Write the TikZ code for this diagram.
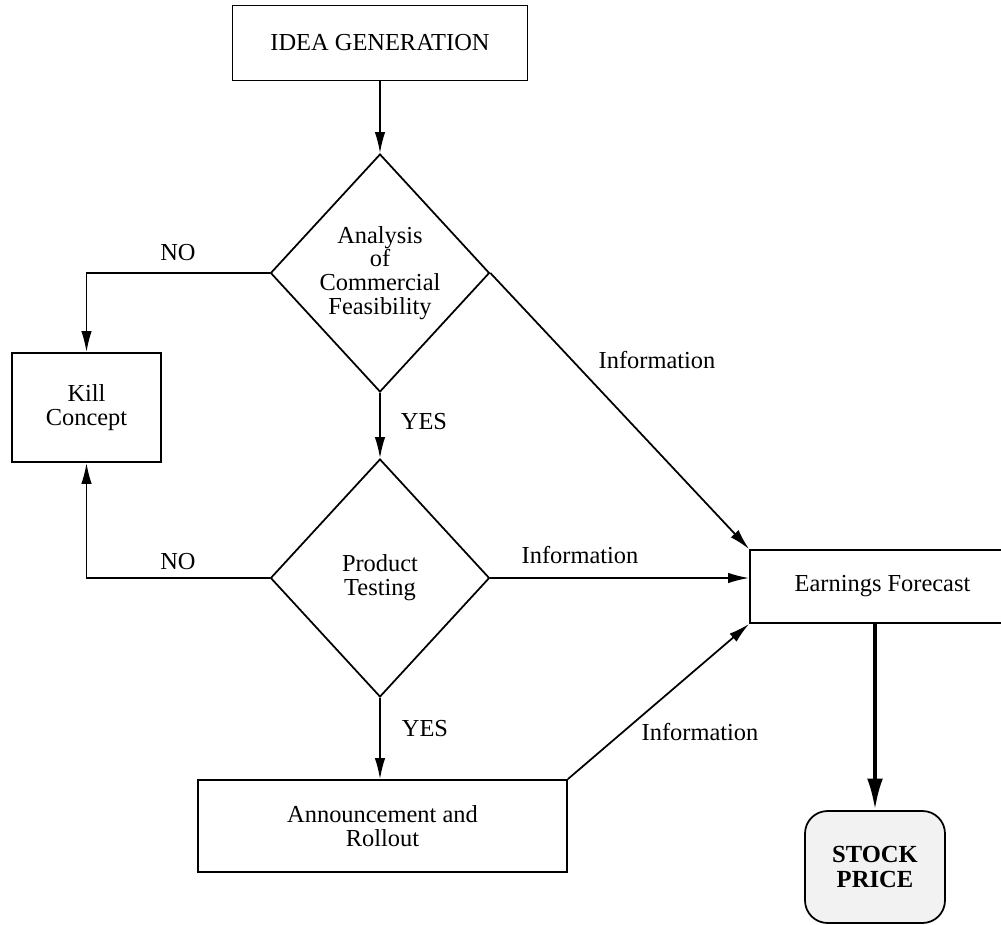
\documentclass[tikz,border=0pt]{standalone}
\usepackage{fontspec}
\setmainfont{Liberation Serif}
\usetikzlibrary{positioning,arrows.meta,shapes.geometric}

\begin{document}
\begin{tikzpicture}[
  x=0.02cm, y=-0.02cm,
  txt/.style      = {font=\fontsize{13.9}{13.6}\selectfont},
  box/.style      = {rectangle, draw, line width=1pt, txt, align=center, inner sep=1pt},
  decide/.style   = {diamond, draw, line width=1pt, txt, align=center, inner sep=0pt,
                     minimum width=4.38cm, minimum height=4.76cm},
  price/.style    = {box, rounded corners=0.45cm, fill=gray!10, font=\fontsize{14}{13.8}\selectfont\bfseries},
  arr/.style      = {line width=1pt, -{Latex[length=12pt,width=6pt]}},
  bigarr/.style   = {line width=2.2pt, -{Latex[length=18pt,width=9pt]}},
  lbl/.style      = {txt, inner sep=0pt}
]
\useasboundingbox (0,0) rectangle (1001,924);

% Boxes and decisions
\node[box, minimum width=5.9cm, minimum height=1.5cm] (idea) at (380,43) {IDEA GENERATION};
\node[decide] (feas) at (380,273) {Analysis\\of\\Commercial\\Feasibility};
\node[box, minimum width=2.98cm, minimum height=2.18cm] (kill) at (86.5,407.5) {Kill\\Concept};
\node[decide] (test) at (380,578) {Product\\Testing};
\node[box, minimum width=7.38cm, minimum height=1.84cm] (ann) at (382.5,826) {Announcement and\\Rollout};
\node[box, minimum width=5.3cm, minimum height=1.46cm] (earn) at (882.5,586.5) {Earnings Forecast};
\node[price, minimum width=2.8cm, minimum height=2.24cm] (stock) at (875,867) {STOCK\\PRICE};

% Main flow
\draw[arr] (idea) -- (feas.north);
\draw[arr] (feas.south) -- (test.north);
\draw[arr] (test.south) -- (ann.north -| test.south);
\draw[arr] (feas.west) -| (kill.north);
\draw[arr] (test.west) -| (kill.south);

% Information flow
\draw[arr] (feas.east) -- (earn.north west);
\draw[arr] (test.east) -- (test.east -| earn.west);
\draw[arr] (ann.north east) -- (earn.south west);
\draw[bigarr] (stock.north |- earn.south) -- (stock.north);

% Labels
\node[lbl] (no1)   at (178,253) {NO};
\node[lbl] (no2)   at (178,562) {NO};
\node[lbl] (yes1)  at (424,422) {YES};
\node[lbl] (yes2)  at (425,729) {YES};
\node[lbl] (info1) at (657,360) {Information};
\node[lbl] (info2) at (580,555) {Information};
\node[lbl] (info3) at (700,732) {Information};
\end{tikzpicture}
\end{document}
